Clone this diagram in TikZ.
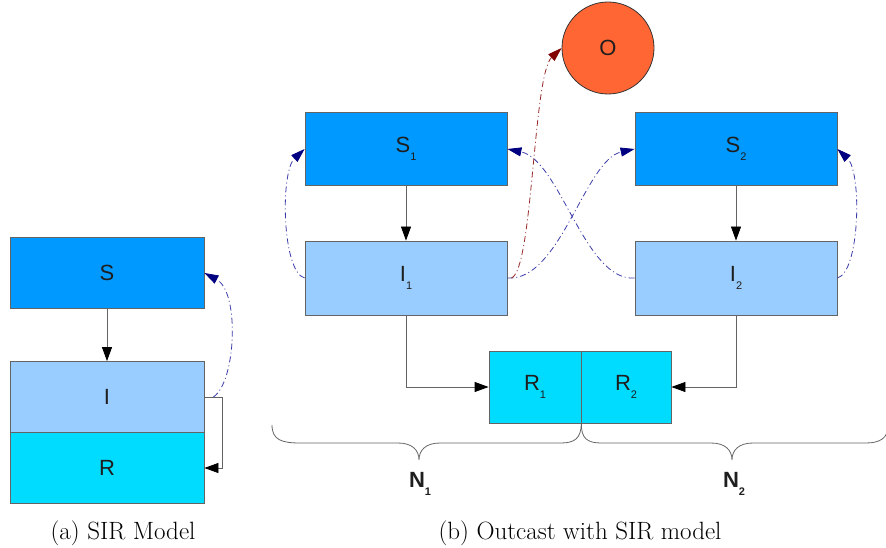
\documentclass[tikz,border=0pt]{standalone}
\usepackage{fontspec}
\usetikzlibrary{arrows.meta,calc}
\newfontfamily\lab{Liberation Sans}
\definecolor{sblue}{RGB}{0,153,255}
\definecolor{iblue}{RGB}{153,204,255}
\definecolor{rcyan}{RGB}{0,220,255}
\definecolor{oorange}{RGB}{255,102,51}
\definecolor{edge}{RGB}{100,100,100}
\definecolor{txt}{RGB}{30,30,30}
\definecolor{ddblue}{RGB}{60,60,170}
\definecolor{navytip}{RGB}{0,0,128}
\definecolor{ddred}{RGB}{150,40,40}
\definecolor{redtip}{RGB}{128,0,0}
\newcommand{\sublab}[2]{#1\raisebox{-8pt}{\fontsize{11}{11}\selectfont #2}}
\begin{document}
\begin{tikzpicture}[x=1pt,y=-1pt,
  box/.style={draw=edge,line width=0.8pt,inner sep=0pt,text=txt,font=\lab\fontsize{22}{22}\selectfont},
  lbox/.style={box,minimum width=194pt,minimum height=71pt},
  rbox/.style={box,minimum width=202pt,minimum height=73pt},
  conn/.style={draw=edge,line width=0.8pt,-{Triangle[length=14pt,width=10pt,color=black]}},
  dd/.style={draw=ddblue,line width=0.8pt,dash pattern=on 6pt off 3pt on 1pt off 3pt,-{Triangle[length=14pt,width=9pt,color=navytip]}},
  ddr/.style={draw=ddred,line width=0.8pt,dash pattern=on 6pt off 3pt on 1pt off 3pt,-{Triangle[length=14pt,width=9pt,color=redtip]}},
  bracepath/.style={draw=edge,line width=0.8pt},
  nlab/.style={anchor=base,inner sep=0pt,text=txt,font=\lab\bfseries\fontsize{22}{22}\selectfont},
  captext/.style={font=\fontsize{25}{28}\selectfont}
]
\useasboundingbox (0,0) rectangle (886,548);
% (a)
\node[lbox,fill=sblue] (S) at (107,273) {S};
\node[lbox,fill=iblue] (I) at (107,397) {I};
\node[lbox,fill=rcyan] (R) at (107,468) {R};
\draw[conn] (S) -- (I);
\draw[conn] (I.east) -- ++(18,0) |- (R.east);
\draw[dd] ([xshift=9pt]I.east) .. controls (236,382) and (240,292) .. (S.east);
% (b)
\node[rbox,fill=sblue] (S1) at (406,149) {\sublab{S}{1}};
\node[rbox,fill=iblue,minimum height=74pt] (I1) at (406,278) {\sublab{I}{1}};
\node[rbox,fill=sblue] (S2) at (736,149) {\sublab{S}{2}};
\node[rbox,fill=iblue,minimum height=74pt] (I2) at (736,278) {\sublab{I}{2}};
\node[box,fill=rcyan,minimum width=92pt,minimum height=72pt] (R1) at (535,387) {\sublab{R}{1}};
\node[box,fill=rcyan,minimum width=90pt,minimum height=72pt] (R2) at (626,387) {\sublab{R}{2}};
\node[box,circle,fill=oorange,draw=black!80,minimum size=92pt] (O) at (608,48) {O};
\draw[conn] (S1) -- (I1);
\draw[conn] (S2) -- (I2);
\draw[conn] (I1.south) |- (R1.west);
\draw[conn] (I2.south) |- (R2.east);
\draw[dd] (I1.west) .. controls (282,272) and (280,172) .. (S1.west);
\draw[dd] (I2.east) .. controls (860,272) and (862,172) .. (S2.east);
\draw[dd] (I1.east) .. controls (560,282) and (585,160) .. (S2.west);
\draw[dd] (I2.west) .. controls (585,282) and (560,160) .. (S1.east);
\draw[ddr] ([xshift=4pt]I1.east) .. controls (533,270) and (533,75) .. (O.west);
% braces
\coordinate (B0) at (272,425);
\coordinate (BM) at (R1.south east);
\coordinate (B2) at (888,426);
\draw[bracepath] (B0) .. controls (272,440) and (282,443) .. (300,443) -- (398,443)
  .. controls (412,443) and (419,450) .. (419,460)
  .. controls (419,450) and (426,443) .. (440,443) -- (561,443)
  .. controls (575,443) and (581,438) .. (BM);
\draw[bracepath] (BM) .. controls (581,438) and (587,443) .. (601,443) -- (711,443)
  .. controls (725,443) and (732,450) .. (732,460)
  .. controls (732,450) and (739,443) .. (753,443) -- (866,443)
  .. controls (880,443) and (888,438) .. (B2);
\node[nlab] (N1) at (420,487) {\sublab{N}{\bfseries 1}};
\node[nlab] (N2) at (734,487) {\sublab{N}{\bfseries 2}};
% captions
\node[captext] (ca) at (123,533) {(a) SIR Model};
\node[captext] (cb) at (580,533) {(b) Outcast with SIR model};
\end{tikzpicture}
\end{document}
